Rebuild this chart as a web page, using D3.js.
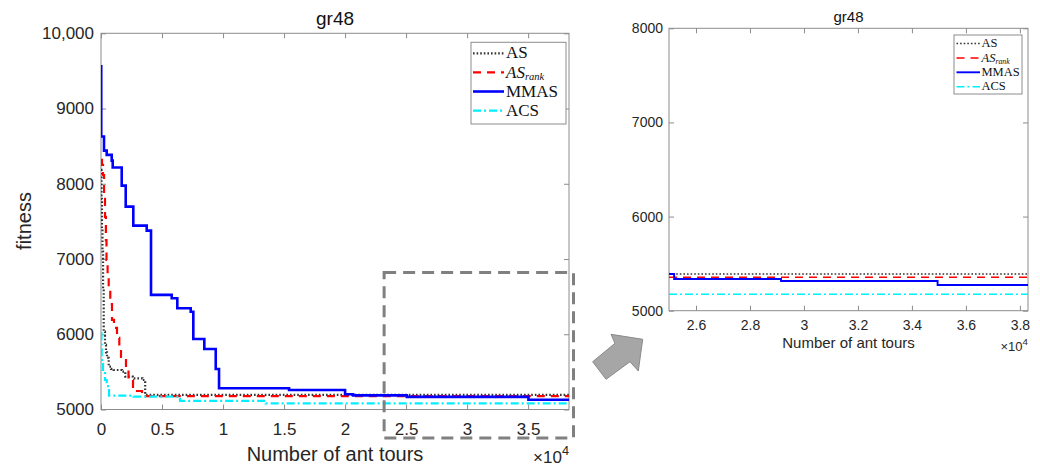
<!DOCTYPE html>
<html>
<head>
<meta charset="utf-8">
<script src="https://cdn.jsdelivr.net/npm/d3@7"></script>
<style>
  html, body { margin: 0; padding: 0; background: #fff; }
  svg { display: block; font-family: "Liberation Sans", Arial, sans-serif; }
</style>
</head>
<body>
<div id="container"></div>
<script>
// Noms des séries (ordre de la légende)
const seriesNames = ["AS", "ASrank", "MMAS", "ACS"];

// Graphique principal : graduations
const mainXTicks = [0, 5000, 10000, 15000, 20000, 25000, 30000, 35000];
const mainXLabels = ["0", "0.5", "1", "1.5", "2", "2.5", "3", "3.5"];
const mainYTicks = [5000, 6000, 7000, 8000, 9000, 10000];
const mainYLabels = ["5000", "6000", "7000", "8000", "9000", "10,000"];

// Graphique principal : données [tours, fitness] (valeur en escalier)
const asMain = [[0, 8185], [40, 7800], [80, 7400], [120, 7100], [170, 6600], [221, 6035], [328, 5858],
  [410, 5760], [492, 5685], [631, 5569], [820, 5540], [1041, 5525], [1721, 5503], [1992, 5436],
  [2600, 5415], [3400, 5392], [3620, 5195], [38350, 5195]];
const asRankMain = [[0, 8317], [80, 8250], [164, 8117], [250, 7800], [328, 7560], [400, 7250], [450, 6988],
  [540, 6800], [631, 6590], [760, 6400], [900, 6190], [1066, 6084], [1311, 5951], [1500, 5800],
  [1639, 5698], [2049, 5552], [2254, 5392], [2623, 5286], [2951, 5246], [3361, 5178], [38350, 5178]];
const mmasMain = [[0, 9560], [20, 8628], [246, 8441], [467, 8384], [877, 8308], [959, 8216], [1697, 7976],
  [2025, 7697], [2648, 7444], [3746, 7378], [4098, 6523], [5795, 6479], [6254, 6346], [7352, 6300],
  [7566, 5937], [8467, 5805], [9402, 5539], [9672, 5282], [15410, 5259], [20000, 5202], [20656, 5188],
  [25057, 5168], [35025, 5130], [38350, 5130]];
const acsMain = [[0, 6017], [41, 5858], [57, 5658], [164, 5500], [328, 5392], [467, 5312], [656, 5184],
  [2648, 5170], [6475, 5115], [13500, 5082], [38350, 5082]];

// Graphique zoomé : graduations
const zoomXTicks = [26000, 28000, 30000, 32000, 34000, 36000, 38000];
const zoomXLabels = ["2.6", "2.8", "3", "3.2", "3.4", "3.6", "3.8"];
const zoomYTicks = [5000, 6000, 7000, 8000];
const zoomYLabels = ["5000", "6000", "7000", "8000"];

// Graphique zoomé : données
const asZoom = [[25000, 5390], [38300, 5390]];
const asRankZoom = [[25000, 5355], [38300, 5355]];
const mmasZoom = [[25000, 5390], [25190, 5337], [29150, 5316], [34950, 5273], [38300, 5273]];
const acsZoom = [[25000, 5174], [38300, 5174]];

// Styles des courbes
const styles = {
  AS: { color: "#333333", dash: "1.6,2" },
  ASrank: { color: "#ff0000", dash: "8,6" },
  MMAS: { color: "#0000ff", dash: null },
  ACS: { color: "#00efff", dash: "8,3,2,3" }
};

const width = 1040;
const height = 466;

const svg = d3.select("#container")
  .append("svg")
  .attr("width", width)
  .attr("height", height);

function drawPanel(p) {
  const x = d3.scaleLinear().domain(p.xDomain).range([p.left, p.right]);
  const y = d3.scaleLinear().domain(p.yDomain).range([p.bottom, p.top]);
  const g = svg.append("g");

  g.append("clipPath").attr("id", p.id + "-clip")
    .append("rect")
    .attr("x", p.left).attr("y", p.top)
    .attr("width", p.right - p.left).attr("height", p.bottom - p.top);

  // Axes (graduations vers l'intérieur sur les 4 côtés)
  const styleAxis = sel => {
    sel.select(".domain").remove();
    sel.selectAll(".tick line").attr("stroke", "#8c8c8c");
    sel.selectAll(".tick text").attr("fill", "#262626").style("font-size", p.tickFont + "px")
      .style("font-family", "'Liberation Sans', Arial, sans-serif");
  };
  g.append("g").attr("transform", `translate(0,${p.bottom})`)
    .call(d3.axisBottom(x).tickValues(p.xTicks).tickFormat((d, i) => p.xLabels[i])
      .tickSizeInner(-5).tickSizeOuter(0).tickPadding(p.xPad))
    .call(styleAxis);
  g.append("g").attr("transform", `translate(0,${p.top})`)
    .call(d3.axisTop(x).tickValues(p.xTicks).tickFormat("").tickSizeInner(-5).tickSizeOuter(0))
    .call(styleAxis);
  g.append("g").attr("transform", `translate(${p.left},0)`)
    .call(d3.axisLeft(y).tickValues(p.yTicks).tickFormat((d, i) => p.yLabels[i])
      .tickSizeInner(-5).tickSizeOuter(0).tickPadding(p.yPad))
    .call(styleAxis);
  g.append("g").attr("transform", `translate(${p.right},0)`)
    .call(d3.axisRight(y).tickValues(p.yTicks).tickFormat("").tickSizeInner(-5).tickSizeOuter(0))
    .call(styleAxis);

  // Cadre
  g.append("rect")
    .attr("x", p.left).attr("y", p.top)
    .attr("width", p.right - p.left).attr("height", p.bottom - p.top)
    .attr("fill", "none").attr("stroke", "#8c8c8c").attr("stroke-width", 1);

  // Courbes
  const line = d3.line().x(d => x(d[0])).y(d => y(d[1])).curve(d3.curveStepAfter);
  p.series.forEach((data, i) => {
    const st = styles[seriesNames[i]];
    g.append("path")
      .datum(data)
      .attr("clip-path", `url(#${p.id}-clip)`)
      .attr("fill", "none")
      .attr("stroke", st.color)
      .attr("stroke-width", seriesNames[i] === "MMAS" ? p.lw + 0.4 : p.lw)
      .attr("stroke-dasharray", st.dash)
      .attr("d", line);
  });

  // Titre
  g.append("text")
    .attr("x", (p.left + p.right) / 2).attr("y", p.titleY)
    .attr("text-anchor", "middle").attr("fill", "#111")
    .style("font-size", p.titleFont + "px")
    .text("gr48");

  // Titre de l'axe X
  g.append("text")
    .attr("x", (p.left + p.right) / 2).attr("y", p.xLabelY)
    .attr("text-anchor", "middle").attr("fill", "#262626")
    .style("font-size", p.labelFont + "px")
    .text("Number of ant tours");

  // Exposant ×10^4
  const ex = g.append("text")
    .attr("x", p.right).attr("y", p.expY)
    .attr("text-anchor", "end").attr("fill", "#262626")
    .style("font-size", p.expFont + "px");
  ex.append("tspan").text("×10");
  ex.append("tspan").attr("dy", -p.expFont * 0.45).style("font-size", (p.expFont * 0.75) + "px").text("4");

  // Légende
  const L = p.legend;
  g.append("rect")
    .attr("x", L.x0).attr("y", L.y0).attr("width", L.x1 - L.x0).attr("height", L.y1 - L.y0)
    .attr("fill", "#fff").attr("stroke", "#8c8c8c").attr("stroke-width", 1);
  seriesNames.forEach((name, i) => {
    const st = styles[name];
    const cy = L.row0 + i * L.step;
    g.append("line")
      .attr("x1", L.s0).attr("x2", L.s1).attr("y1", cy).attr("y2", cy)
      .attr("stroke", st.color).attr("stroke-width", name === "MMAS" ? p.lw + 0.4 : p.lw)
      .attr("stroke-dasharray", st.dash);
    const t = g.append("text")
      .attr("x", L.tx).attr("y", cy + L.font * 0.3)
      .attr("fill", "#111")
      .style("font-family", "'Liberation Serif', 'Times New Roman', serif")
      .style("font-size", L.font + "px");
    if (name === "ASrank") {
      t.append("tspan").style("font-style", "italic").text("AS");
      t.append("tspan").style("font-style", "italic").style("font-size", (L.font * 0.62) + "px")
        .attr("dy", L.font * 0.15).text("rank");
    } else {
      t.text(name);
    }
  });

  return { x, y, g };
}

// Graphique principal
const main = drawPanel({
  id: "main", left: 101, right: 569, top: 33.3, bottom: 409.5,
  xDomain: [0, 38350], yDomain: [5000, 10000],
  xTicks: mainXTicks, xLabels: mainXLabels, yTicks: mainYTicks, yLabels: mainYLabels,
  series: [asMain, asRankMain, mmasMain, acsMain],
  lw: 2.2, tickFont: 17, xPad: 13.5, yPad: 7,
  titleY: 25, titleFont: 19, xLabelY: 461, labelFont: 20, expY: 463, expFont: 17,
  legend: { x0: 471, x1: 566, y0: 42.3, y1: 124, row0: 53.3, step: 19.1, s0: 473, s1: 504, tx: 506, font: 17 }
});

// Titre de l'axe Y
svg.append("text")
  .attr("transform", "translate(31,221) rotate(-90)")
  .attr("text-anchor", "middle").attr("fill", "#262626")
  .style("font-size", "20px")
  .text("fitness");

// Rectangle pointillé de la zone agrandie
svg.append("rect")
  .attr("x", main.x(23200)).attr("y", main.y(6820))
  .attr("width", 573.5 - main.x(23200)).attr("height", 438 - main.y(6820))
  .attr("fill", "none").attr("stroke", "#808080").attr("stroke-width", 3)
  .attr("stroke-dasharray", "12,7");

// Flèche
svg.append("polygon")
  .attr("points", "592.7,361.7 615,343.3 611,334.3 642.7,339.3 638.3,371 630,361.7 606,379.3")
  .attr("fill", "#a6a6a6").attr("stroke", "#8a8a8a").attr("stroke-width", 1);

// Graphique zoomé
drawPanel({
  id: "zoom", left: 669, right: 1028, top: 28.3, bottom: 310.7,
  xDomain: [25000, 38300], yDomain: [5000, 8000],
  xTicks: zoomXTicks, xLabels: zoomXLabels, yTicks: zoomYTicks, yLabels: zoomYLabels,
  series: [asZoom, asRankZoom, mmasZoom, acsZoom],
  lw: 1.5, tickFont: 14, xPad: 9.4, yPad: 6,
  titleY: 22, titleFont: 15, xLabelY: 348, labelFont: 15, expY: 351, expFont: 13,
  legend: { x0: 954, x1: 1022, y0: 35, y1: 94, row0: 43.5, step: 14.4, s0: 956.5, s1: 980, tx: 981.5, font: 12.5 }
});
</script>
</body>
</html>
